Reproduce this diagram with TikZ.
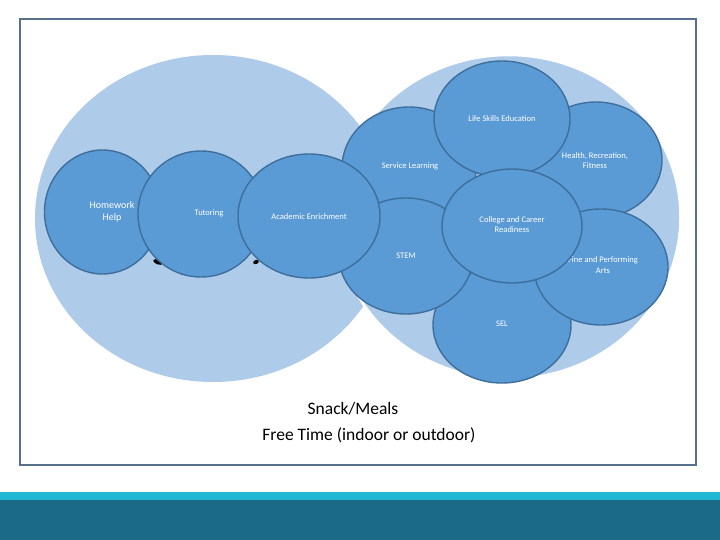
\documentclass[tikz,border=0pt]{standalone}
\usepackage{fontspec}
\setmainfont{Carlito}
\usetikzlibrary{shapes.geometric}
\definecolor{bigblue}{RGB}{174,203,233}
\definecolor{midblue}{RGB}{91,155,213}
\definecolor{edgeblue}{RGB}{62,110,155}
\definecolor{framec}{RGB}{86,113,142}
\definecolor{barcyan}{RGB}{31,183,209}
\definecolor{barteal}{RGB}{27,106,136}
\tikzset{
  bigcirc/.style={ellipse, fill=bigblue, inner sep=0pt, outer sep=0pt},
  smcirc/.style={ellipse, draw=edgeblue, line width=1.4pt, fill=midblue, inner sep=0pt},
  lbl/.style={text=white, align=center, inner sep=0pt, font=\fontsize{8.5}{10.5}\selectfont},
  bigtext/.style={text=black, inner sep=0pt, anchor=base, font=\fontsize{17.5}{20}\selectfont}
}
\begin{document}
\begin{tikzpicture}[x=1pt, y=-1pt]
\useasboundingbox (0,0) rectangle (720,540);
\fill[white] (0,0) rectangle (720,540);
% bottom bars
\fill[barcyan] (0,492) rectangle (720,500);
\fill[barteal] (0,500) rectangle (720,540);
% frame
\draw[framec, line width=2pt] (20,19.5) rectangle (696,465);
% big circles
\node[bigcirc, minimum width=356pt, minimum height=327pt] (left) at (213,218.5) {};
\node[bigcirc, draw=white, line width=2.5pt, minimum width=344pt, minimum height=324pt] (right) at (508.5,217) {};
% fragments of hidden dark text
\fill[black, rotate around={-20:(158,262)}] (158,262) ellipse [x radius=5pt, y radius=2.4pt];
\fill[black] (181,271.5) rectangle (186,274.5);
\fill[black, rotate around={25:(256,262)}] (256,262) ellipse [x radius=3pt, y radius=2pt];
% right group
\node[smcirc, minimum width=138pt, minimum height=116pt] (sel) at (502,325) {};
\node[lbl] (selt) at (502,324) {SEL};
\node[smcirc, minimum width=134pt, minimum height=122pt] (serv) at (409,168) {};
\node[lbl] (servt) at (410,166) {Service Learning};
\node[smcirc, minimum width=134pt, minimum height=116pt] (stem) at (406,256) {};
\node[lbl] (stemt) at (406,256) {STEM};
\node[smcirc, minimum width=132pt, minimum height=116pt] (hlth) at (596,160) {};
\node[lbl] (hltht) at (595,160.5) {Health, Recreation,\\Fitness};
\node[smcirc, minimum width=134pt, minimum height=116pt] (arts) at (601,267) {};
\node[lbl] (artst) at (603,265) {Fine and Performing\\Arts};
\node[smcirc, minimum width=136pt, minimum height=116pt] (life) at (502,119) {};
\node[lbl] (lifet) at (502,119) {Life Skills Education};
\node[smcirc, minimum width=140pt, minimum height=114pt] (coll) at (512,226) {};
\node[lbl] (collt) at (512,224.5) {College and Career\\Readiness};
% left group
\node[smcirc, minimum width=116pt, minimum height=124pt] (hw) at (102.5,212) {};
\node[lbl, font=\fontsize{10}{12}\selectfont] (hwt) at (112,212) {Homework\\Help};
\node[smcirc, minimum width=126pt, minimum height=126pt] (tut) at (201,214) {};
\node[lbl] (tutt) at (209,213.5) {Tutoring};
\node[smcirc, minimum width=142pt, minimum height=124pt] (acad) at (309,216) {};
\node[lbl] (acadt) at (309,217) {Academic Enrichment};
% bottom texts
\node[bigtext] (snack) at (353,414) {Snack/Meals};
\node[bigtext] (free) at (369,440) {Free Time (indoor or outdoor)};
\end{tikzpicture}
\end{document}
